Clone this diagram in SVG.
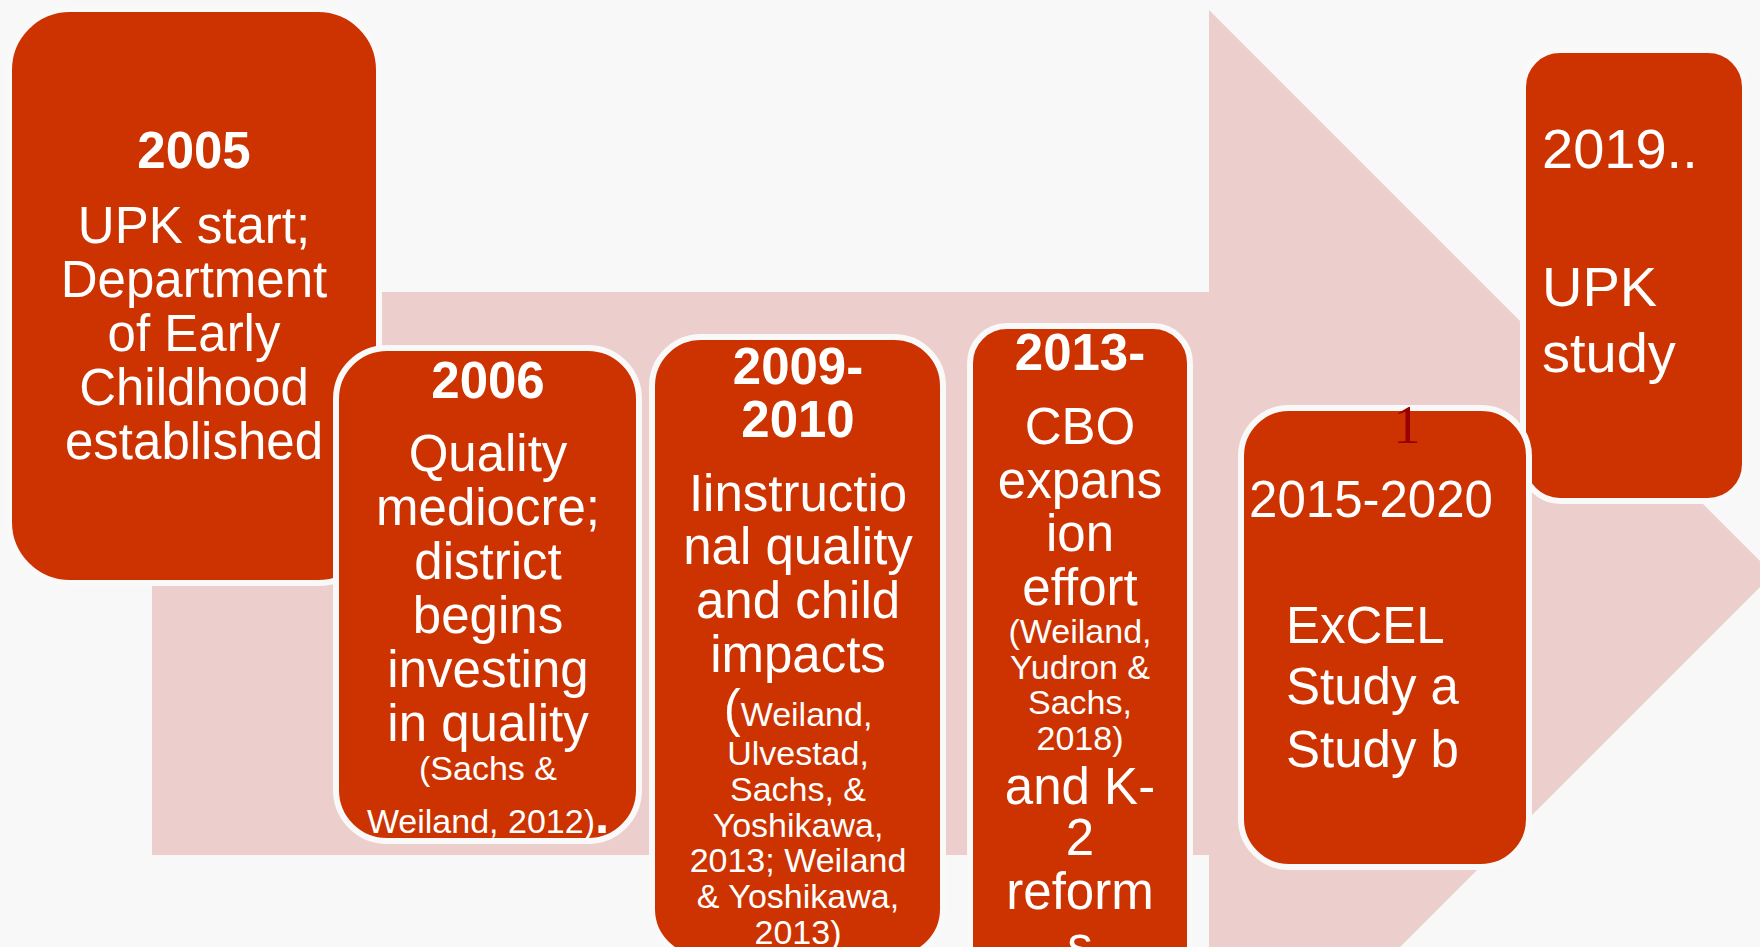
<svg xmlns="http://www.w3.org/2000/svg" width="1760" height="947" viewBox="0 0 1760 947">
  <style>
    .box { fill: #cc3300; stroke: #f9f9f9; stroke-width: 6; }
    .t { font-family: "Liberation Sans", Arial, sans-serif; fill: #ffffff; }
    .c { text-anchor: middle; }
    .yr { font-weight: bold; font-size: 51px; }
    .big { font-size: 51px; }
    .ref { font-size: 34px; }
    .big56 { font-size: 56px; }
  </style>
  <rect width="1760" height="947" fill="#f8f8f8"/>

  <!-- broad timeline arrow behind the milestones -->
  <g id="arrow">
    <polygon points="152,292 1209,292 1209,10 1773,574 1209,1138 1209,855 152,855" fill="#eccecc"/>
  </g>

  <g id="connectors"/>

  <g id="n2005">
    <rect class="box" x="9" y="9" width="370" height="574" rx="61" ry="61"/>
    <text class="t c yr" x="194" y="168">2005</text>
    <text class="t c big" x="194" y="243">UPK start;</text>
    <text class="t c big" x="194" y="297">Department</text>
    <text class="t c big" x="194" y="351">of Early</text>
    <text class="t c big" x="194" y="405">Childhood</text>
    <text class="t c big" x="194" y="459">established</text>
  </g>

  <g id="n2006">
    <rect class="box" x="336" y="348" width="303" height="493" rx="51" ry="51"/>
    <text class="t c yr" x="488" y="398">2006</text>
    <text class="t c big" x="488" y="471">Quality</text>
    <text class="t c big" x="488" y="525">mediocre;</text>
    <text class="t c big" x="488" y="579">district</text>
    <text class="t c big" x="488" y="633">begins</text>
    <text class="t c big" x="488" y="687">investing</text>
    <text class="t c big" x="488" y="741">in quality</text>
    <text class="t c ref" x="488" y="780">(Sachs &amp;</text>
    <text class="t c ref" x="488" y="833">Weiland, 2012)<tspan class="yr">.</tspan></text>
  </g>

  <g id="n2009">
    <rect class="box" x="652" y="337" width="291" height="621" rx="49" ry="49"/>
    <text class="t c yr" x="798" y="384">2009-</text>
    <text class="t c yr" x="798" y="437">2010</text>
    <text class="t c big" x="798" y="511">Iinstructio</text>
    <text class="t c big" x="798" y="564">nal quality</text>
    <text class="t c big" x="798" y="618">and child</text>
    <text class="t c big" x="798" y="672">impacts</text>
    <text class="t c ref" x="798" y="726"><tspan class="big">(</tspan>Weiland,</text>
    <text class="t c ref" x="798" y="765">Ulvestad,</text>
    <text class="t c ref" x="798" y="801">Sachs, &amp;</text>
    <text class="t c ref" x="798" y="837">Yoshikawa,</text>
    <text class="t c ref" x="798" y="872">2013; Weiland</text>
    <text class="t c ref" x="798" y="908">&amp; Yoshikawa,</text>
    <text class="t c ref" x="798" y="944">2013)</text>
  </g>

  <g id="n2013">
    <rect class="box" x="970" y="326" width="220" height="674" rx="37" ry="37"/>
    <text class="t c yr" x="1080" y="370">2013-</text>
    <text class="t c big" x="1080" y="444">CBO</text>
    <text class="t c big" x="1080" y="498">expans</text>
    <text class="t c big" x="1080" y="551">ion</text>
    <text class="t c big" x="1080" y="605">effort</text>
    <text class="t c ref" x="1080" y="643">(Weiland,</text>
    <text class="t c ref" x="1080" y="679">Yudron &amp;</text>
    <text class="t c ref" x="1080" y="714">Sachs,</text>
    <text class="t c ref" x="1080" y="750">2018)</text>
    <text class="t c big" x="1080" y="804">and K-</text>
    <text class="t c big" x="1080" y="855">2</text>
    <text class="t c big" x="1080" y="909">reform</text>
    <text class="t c big" x="1080" y="963">s</text>
  </g>

  <g id="n2019">
    <rect class="box" x="1523" y="50" width="222" height="451" rx="37" ry="37"/>
    <text class="t big56" x="1542" y="168">2019..</text>
    <text class="t big56" x="1542" y="306">UPK</text>
    <text class="t big56" x="1542" y="372">study</text>
  </g>

  <g id="n2015">
    <rect class="box" x="1241" y="408" width="288" height="459" rx="48" ry="48"/>
    <text class="t c big" x="1371" y="517">2015-2020</text>
    <text class="t big" x="1286" y="643">ExCEL</text>
    <text class="t big" x="1286" y="704">Study a</text>
    <text class="t big" x="1286" y="767">Study b</text>
  </g>

  <g id="page-number">
    <text x="1407" y="443" text-anchor="middle" font-family="'Liberation Serif', 'Times New Roman', serif" font-size="54" fill="#990000">1</text>
  </g>
</svg>
